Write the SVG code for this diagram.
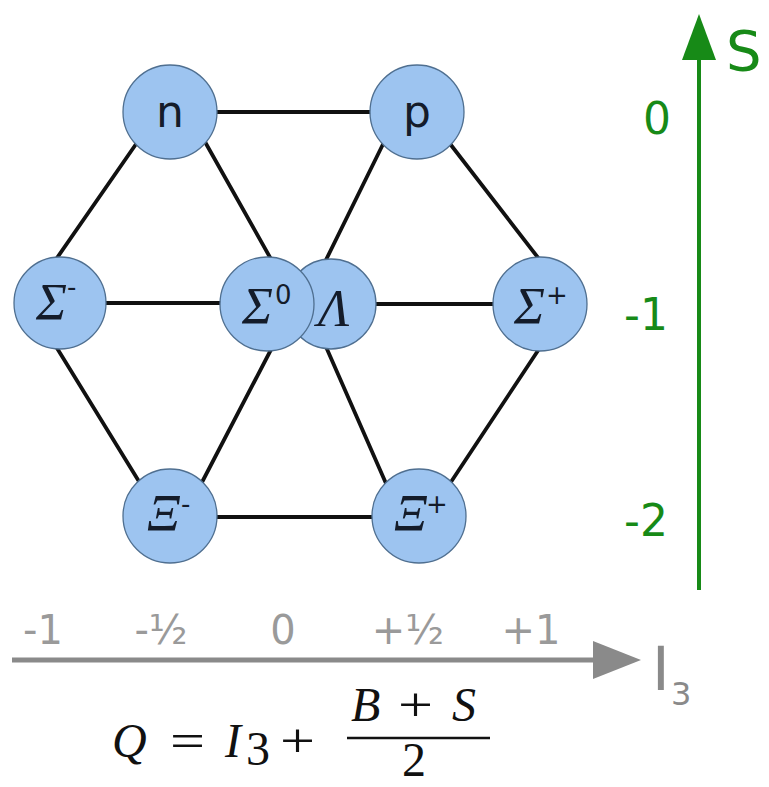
<svg xmlns="http://www.w3.org/2000/svg" width="769" height="787" viewBox="0 0 769 787">
<style>
.node{fill:#9dc4f0;stroke:#4f6f90;stroke-width:1.3}
.edge{stroke:#111;stroke-width:3.8;stroke-linecap:round}
.sans{font-family:"DejaVu Sans","Liberation Sans",sans-serif}
.lbl{font-family:"DejaVu Sans",sans-serif;font-size:44px;fill:#141c2a;text-anchor:middle}
.greek{font-family:"Liberation Serif","DejaVu Serif",serif;font-style:italic;font-size:52px;fill:#141c2a}
.sup{font-family:"DejaVu Sans",sans-serif;font-size:26px;fill:#141c2a}
.green{fill:#178a17;font-family:"DejaVu Sans",sans-serif}
.gray{fill:#9a9a9a;font-family:"DejaVu Sans",sans-serif;font-size:40px;text-anchor:middle}
.math{font-family:"Liberation Serif","DejaVu Serif",serif;font-size:48px;fill:#111}
</style>
<rect width="769" height="787" fill="#fff"/>
<g id="connectors">
<line class="edge" x1="217" y1="112" x2="370" y2="112"/>
<line class="edge" x1="143" y1="134" x2="50" y2="268"/>
<line class="edge" x1="200" y1="133" x2="276" y2="268"/>
<line class="edge" x1="389" y1="132" x2="322" y2="268"/>
<line class="edge" x1="444" y1="136" x2="546" y2="268"/>
<line class="edge" x1="105" y1="303" x2="222" y2="303"/>
<line class="edge" x1="370" y1="304" x2="494" y2="304"/>
<line class="edge" x1="52" y1="340" x2="143" y2="488"/>
<line class="edge" x1="276" y1="340" x2="199" y2="488"/>
<line class="edge" x1="323" y1="340" x2="388" y2="488"/>
<line class="edge" x1="545" y1="340" x2="447" y2="488"/>
<line class="edge" x1="217" y1="517" x2="372" y2="517"/>
</g>
<g id="node-n"><circle class="node" cx="170" cy="112" r="47"/><text class="lbl" x="170" y="127">n</text></g>
<g id="node-p"><circle class="node" cx="417" cy="112" r="47"/><text class="lbl" x="417" y="127">p</text></g>
<g id="node-sigma-minus"><circle class="node" cx="60" cy="303" r="46"/><text class="greek" x="36" y="320">Σ</text><text class="sup" x="67" y="296">-</text></g>
<g id="node-lambda"><circle class="node" cx="331" cy="304" r="45"/><text class="greek" x="318" y="326">Λ</text></g>
<g id="node-sigma-zero"><circle class="node" cx="267" cy="304" r="47"/><text class="greek" x="242" y="324">Σ</text><text class="sup" x="275" y="304">0</text></g>
<g id="node-sigma-plus"><circle class="node" cx="540" cy="304" r="47"/><text class="greek" x="514" y="324">Σ</text><text class="sup" x="546" y="304">+</text></g>
<g id="node-xi-minus"><circle class="node" cx="170" cy="516" r="47"/><text class="greek" x="147" y="531">Ξ</text><text class="sup" x="181" y="513">-</text></g>
<g id="node-xi-plus"><circle class="node" cx="419" cy="516" r="47"/><text class="greek" x="394" y="531">Ξ</text><text class="sup" x="426" y="513">+</text></g>
<g id="s-axis">
<line x1="699" y1="590" x2="699" y2="50" stroke="#178a17" stroke-width="4"/>
<polygon points="699,14 716,60 682,60" fill="#178a17"/>
<text class="green" x="726" y="70" font-size="56">S</text>
<text class="green" x="657" y="134" font-size="44" text-anchor="middle">0</text>
<text class="green" x="646" y="330" font-size="44" text-anchor="middle">-1</text>
<text class="green" x="646" y="536" font-size="44" text-anchor="middle">-2</text>
</g>
<g id="i3-axis">
<line x1="12" y1="660" x2="600" y2="660" stroke="#8a8a8a" stroke-width="5"/>
<polygon points="641,660 593,641 593,679" fill="#8a8a8a"/>
<text class="gray" x="43" y="644">-1</text>
<text class="gray" x="161" y="644">-½</text>
<text class="gray" x="283" y="644">0</text>
<text class="gray" x="408" y="644">+½</text>
<text class="gray" x="531" y="644">+1</text>
<text fill="#8a8a8a" class="sans" x="652" y="690" font-size="60">I</text>
<text fill="#8a8a8a" class="sans" x="671" y="705" font-size="32">3</text>
</g>
<g id="formula">
<text class="math" x="112" y="757" font-style="italic">Q</text>
<text class="math" x="170" y="757" textLength="35" lengthAdjust="spacingAndGlyphs">=</text>
<text class="math" x="225" y="757" font-style="italic">I</text>
<text class="math" x="246" y="765" font-size="30">3</text>
<text class="math" x="280" y="757" textLength="35" lengthAdjust="spacingAndGlyphs">+</text>
<text class="math" x="351" y="721" font-style="italic">B</text>
<text class="math" x="398" y="721" textLength="35" lengthAdjust="spacingAndGlyphs">+</text>
<text class="math" x="452" y="721" font-style="italic">S</text>
<line x1="347" y1="738" x2="490" y2="738" stroke="#111" stroke-width="2.5"/>
<text class="math" x="402" y="776" font-size="42">2</text>
</g>
</svg>
